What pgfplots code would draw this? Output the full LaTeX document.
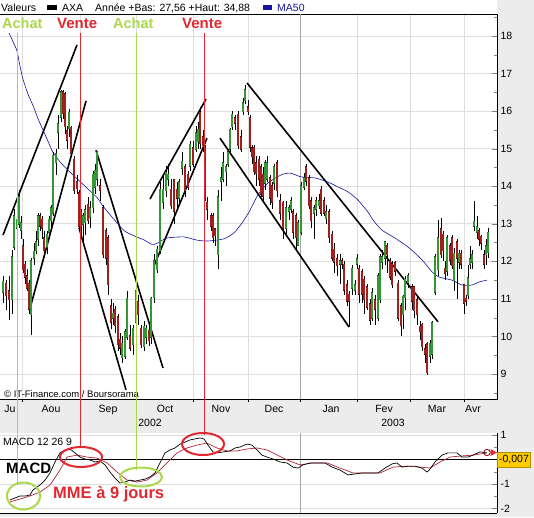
\documentclass[border=0pt]{standalone}
\usepackage{pgfplots}
\pgfplotsset{compat=1.18}
\usepackage{pgfplotstable}
\usepackage{fontspec}
\setmainfont{Liberation Sans}
\definecolor{bg}{RGB}{236,236,236}
\definecolor{gridc}{RGB}{222,222,222}
\definecolor{yearc}{RGB}{165,165,165}
\definecolor{achat}{RGB}{170,216,74}
\definecolor{vente}{RGB}{226,40,48}
\definecolor{cgreen}{RGB}{52,150,52}
\definecolor{cgreenE}{RGB}{25,80,25}
\definecolor{cred}{RGB}{160,32,32}
\definecolor{credE}{RGB}{70,10,10}
\definecolor{ma}{RGB}{20,20,160}
\definecolor{sig}{RGB}{176,40,56}
\definecolor{ybox}{RGB}{255,204,0}

\pgfplotstableread{
x o h l c
3 11.20 11.60 10.90 11.45
6 11.40 11.50 10.70 11.10
9 11.20 11.60 10.45 11.00
12 11.00 12.30 10.60 12.10
14 12.40 13.40 12.30 13.20
17 12.90 13.50 12.60 13.10
19 13.00 13.90 12.90 13.70
21 12.85 13.20 12.60 13.00
23 12.40 12.60 11.70 11.80
25 11.90 12.00 11.40 11.60
27 11.60 11.80 11.20 11.30
29 11.40 11.50 10.60 10.75
31 10.60 12.10 10.05 12.00
34 12.10 12.50 11.90 12.25
36 12.30 12.80 12.20 12.50
38 12.60 13.30 12.40 13.20
40 13.20 13.30 12.80 12.95
42 13.10 13.20 12.60 12.90
44 12.60 12.80 12.10 12.30
47 12.40 12.80 12.20 12.70
49 12.80 13.20 12.60 13.10
51 13.10 13.50 12.90 13.40
53 13.30 14.90 13.20 14.80
56 14.65 15.00 14.30 14.85
58 15.45 15.90 15.00 15.65
61 15.85 16.55 15.70 16.50
63 16.50 16.55 15.80 15.95
65 16.45 16.50 15.40 15.60
67 15.45 15.60 15.00 15.25
69 15.55 16.05 15.30 15.95
71 15.55 15.60 14.80 14.90
74 14.70 14.80 13.80 13.90
77 14.10 14.30 13.80 13.95
79 13.80 13.90 12.80 12.95
81 13.30 13.40 12.60 12.95
83 13.00 13.30 12.50 13.20
85 13.05 13.50 12.70 13.35
88 13.50 13.70 13.00 13.10
90 13.20 13.60 12.90 13.40
93 13.45 14.40 13.30 14.30
95 14.00 14.60 13.80 14.40
97 14.20 14.95 14.00 14.90
100 14.00 14.20 13.60 13.90
103 13.40 13.50 12.10 12.20
106 12.80 12.90 11.90 12.10
108 12.60 12.70 11.10 11.40
111 10.80 11.00 10.20 10.40
113 10.50 10.90 10.30 10.60
115 10.70 10.80 10.10 10.30
118 10.50 10.60 9.60 9.80
120 9.90 10.10 9.50 9.70
122 9.45 10.00 9.30 9.80
125 9.50 10.20 9.40 10.10
127 10.00 11.20 9.90 11.00
130 10.00 10.30 9.60 9.70
133 9.80 10.30 9.50 10.20
136 10.40 11.40 10.20 11.20
138 10.90 11.10 10.30 10.60
141 10.20 10.30 9.70 9.80
144 9.75 10.40 9.60 10.25
146 10.00 10.30 9.80 10.20
149 10.15 10.30 9.75 9.90
151 10.00 11.05 9.80 11.00
154 11.05 12.20 10.90 12.00
157 11.80 12.40 11.70 12.30
160 12.30 14.10 12.20 13.90
163 13.60 14.30 13.40 13.90
166 13.90 14.55 13.70 14.35
168 14.20 14.60 14.00 14.30
171 13.90 14.20 13.40 13.50
174 14.15 14.20 13.00 13.35
177 13.90 14.10 13.40 13.70
179 13.70 14.20 13.50 14.10
182 14.50 14.90 14.30 14.65
185 14.50 14.60 13.70 13.90
188 14.30 14.40 13.90 14.00
190 14.55 15.20 14.40 15.10
193 15.00 15.20 14.50 14.60
196 15.00 15.60 14.90 15.40
198 15.20 15.70 15.00 15.50
200 15.95 16.10 15.00 15.15
203 15.30 15.50 14.90 15.10
205 15.00 15.10 13.60 13.70
207 13.55 13.70 13.10 13.40
211 13.20 13.30 12.80 12.95
213 13.20 13.30 12.50 12.65
215 12.85 12.90 12.40 12.70
218 12.20 13.90 11.80 13.70
221 14.15 14.50 13.60 14.20
223 14.20 14.90 14.10 14.60
226 14.40 14.60 14.00 14.50
228 14.60 15.00 14.50 14.90
230 15.00 15.55 14.90 15.50
232 15.60 16.00 15.50 15.90
235 15.80 15.90 15.50 15.70
238 15.90 16.00 15.00 15.10
241 15.30 15.50 14.90 15.00
243 16.00 16.35 15.90 16.20
245 16.30 16.70 16.20 16.55
248 16.10 16.30 15.90 16.00
250 15.80 15.90 14.90 15.05
252 15.00 15.10 14.60 14.80
254 15.00 15.10 14.30 14.40
256 14.60 14.80 14.00 14.35
259 14.70 14.80 14.00 14.20
261 14.50 14.60 13.70 13.80
263 14.30 14.50 13.60 13.75
265 14.10 14.70 13.90 14.60
267 14.20 14.80 14.10 14.60
270 14.20 14.30 13.50 13.70
272 14.00 14.10 13.40 13.60
274 14.10 14.60 13.90 14.50
277 14.60 14.70 13.70 13.90
280 13.60 13.80 13.10 13.30
283 13.55 13.60 12.60 12.90
286 12.90 13.60 12.70 13.40
289 13.35 13.50 13.10 13.40
291 13.40 13.70 13.30 13.60
293 13.30 13.40 12.60 12.80
296 13.20 13.30 12.30 12.65
298 12.45 13.10 12.40 13.00
301 12.80 14.10 12.70 14.00
304 14.00 14.35 13.90 14.20
306 14.50 14.60 14.00 14.15
309 14.20 14.30 13.40 13.50
311 13.60 13.70 12.90 13.10
314 13.30 13.50 12.60 13.40
316 13.40 13.70 13.20 13.60
319 13.50 13.80 13.40 13.60
321 13.90 14.00 13.20 13.30
324 13.60 13.70 13.20 13.30
326 13.15 13.50 13.00 13.30
329 13.30 13.40 12.50 12.65
332 12.70 12.80 12.00 12.10
334 12.30 12.50 11.70 12.00
337 12.05 12.20 11.60 11.90
340 11.95 12.20 11.40 12.00
342 12.00 12.10 11.80 11.95
344 11.90 12.00 11.10 11.25
347 11.35 11.50 10.80 10.95
349 11.10 11.20 10.25 10.95
352 11.30 11.90 11.10 11.80
355 11.25 11.50 11.10 11.35
357 11.95 12.20 11.80 12.05
359 11.80 11.90 10.90 11.15
362 11.70 11.80 10.90 11.15
364 11.50 11.60 10.60 11.00
367 11.30 11.40 10.70 10.80
370 10.85 11.00 10.30 10.45
372 10.50 11.30 10.40 11.15
375 10.95 11.10 10.30 10.75
378 10.50 11.70 10.40 11.60
380 11.00 12.20 10.90 12.10
382 12.00 12.30 11.80 12.10
385 12.10 12.55 11.90 12.50
387 12.40 12.50 11.70 12.20
390 12.00 12.10 11.50 11.60
392 11.90 12.00 11.30 11.40
395 11.95 12.00 11.60 11.75
398 11.40 11.50 10.40 10.50
401 10.80 10.90 10.00 10.30
403 10.60 11.10 10.20 11.05
405 11.05 11.60 10.70 11.50
408 11.45 11.70 11.30 11.60
412 11.30 11.40 10.70 10.95
414 11.30 11.35 10.50 10.70
417 10.95 11.10 10.30 10.60
420 10.25 10.40 9.90 10.15
422 10.30 10.35 9.60 9.75
425 9.65 9.80 9.30 9.55
427 9.80 9.85 8.98 9.05
430 9.50 9.90 9.30 9.80
432 9.55 10.40 9.40 10.35
435 11.20 12.20 11.10 12.10
438 11.80 13.10 11.60 12.60
441 12.85 13.15 12.10 12.20
443 12.70 12.80 12.00 12.30
445 11.80 12.00 11.50 11.70
447 11.75 12.70 11.60 12.60
450 12.40 12.50 11.90 12.05
452 12.60 12.70 11.80 11.90
454 11.50 12.35 11.20 12.20
457 12.50 12.60 11.00 12.10
459 12.00 12.30 11.80 12.20
461 12.20 12.30 11.80 11.95
464 11.35 11.40 10.60 10.90
466 11.00 11.10 10.80 10.95
468 11.10 11.90 11.00 11.55
470 11.95 12.40 11.80 12.05
472 12.00 12.30 11.80 12.15
474 12.95 13.60 12.80 13.05
477 12.80 13.20 12.60 12.90
479 12.80 12.90 12.40 12.60
481 12.65 12.70 12.30 12.50
484 12.15 12.30 11.80 11.95
486 12.20 12.60 11.90 12.40
488 12.25 12.90 12.10 12.75
}\candles

\begin{document}
\begin{tikzpicture}
\useasboundingbox (0pt,0pt) rectangle (534pt,517pt);
\fill[bg] (0pt,0pt) rectangle (534pt,517pt);
\fill[white] (0pt,503pt) rectangle (497pt,517pt);

% ---------- main price panel ----------
\begin{axis}[
  at={(-1pt,118pt)}, anchor=south west,
  width=498pt, height=385pt, scale only axis,
  xmin=-1, xmax=497, ymin=8.334, ymax=18.586,
  axis background/.style={fill=white},
  axis line style={black, line width=0.8pt},
  ytick pos=right, yticklabel pos=right,
  xtick pos=left,
  ytick={9,10,...,18}, minor ytick={8.5,9.5,...,18.5},
  tick align=inside,
  major tick length=5pt, minor tick length=3pt,
  ymajorgrids, major grid style={gridc, line width=0.6pt},
  xtick={10,51,108,165,221,274,331,384,437,473},
  xticklabels={Ju,Aou,Sep,Oct,Nov,Dec,Jan,Fev,Mar,Avr},
  major x tick style={draw=none},
  minor xtick={22,80,136,193,248,300,357,410,464},
  minor x tick style={yshift=-3pt, black},
  xminorgrids, minor x grid style={gridc, line width=0.6pt},
  tick label style={font=\fontsize{10.5}{12}\selectfont},
  xticklabel style={anchor=base, yshift=-13.7pt},
  /pgf/number format/assume math mode=true,
  clip=true,
]
\draw[yearc, line width=0.7pt] (axis cs:300,8.334) -- (axis cs:300,18.586);
% trend lines
\addplot[black, line width=1.6pt] coordinates {(3,12.70) (77,17.76)};
\addplot[black, line width=1.6pt] coordinates {(31,10.84) (86,16.27)};
\addplot[black, line width=1.6pt] coordinates {(96,14.96) (163,9.16)};
\addplot[black, line width=1.6pt] coordinates {(79,12.89) (126,8.58)};
\addplot[black, line width=1.6pt] coordinates {(150,13.66) (206,16.32)};
\addplot[black, line width=1.6pt] coordinates {(154,11.88) (207,15.28)};
\addplot[black, line width=1.6pt] coordinates {(247,16.75) (438,10.39)};
\addplot[black, line width=1.6pt] coordinates {(220,15.28) (349,10.25)};
% MA50
\addplot[ma, line width=0.6pt, smooth, tension=0.4] coordinates {
(9,18.08) (13,17.85) (17,17.60) (20,17.20) (23,16.85) (28,16.45) (33,16.15) (38,15.80)
(43,15.50) (48,15.20) (53,14.90) (60,14.65) (67,14.45) (77,14.20) (87,13.95) (97,13.70)
(103,13.47) (113,13.15) (124,12.82) (134,12.68) (144,12.57) (152,12.45) (157,12.48) (167,12.62)
(184,12.65) (196,12.57) (207,12.54) (224,12.60) (234,12.76) (242,13.02) (249,13.31) (258,13.77)
(268,14.09) (281,14.30) (290,14.35) (301,14.25) (315,14.22) (328,14.11) (338,13.98) (348,13.85)
(358,13.63) (368,13.31) (373,13.10) (382,12.83) (395,12.62) (409,12.36) (422,12.04) (432,11.72)
(439,11.58) (452,11.50) (462,11.37) (472,11.37) (479,11.45) (487,11.50)};
% wicks
\addplot[draw=none, mark=none, forget plot,
  error bars/.cd, y dir=both, y explicit, error mark=none,
  error bar style={draw=black, line width=0.65pt}]
  table[x=x, y expr={(\thisrow{h}+\thisrow{l})/2}, y error expr={(\thisrow{h}-\thisrow{l})/2}] {\candles};
% green bodies
\addplot[draw=none, mark=none, forget plot, restrict y to domain=0:100,
  error bars/.cd, y dir=both, y explicit, error mark=none,
  error bar style={draw=cgreenE, line width=2.6pt, line cap=rect}]
  table[x=x, y expr={\thisrow{c}>\thisrow{o} ? 0.5*(\thisrow{c}+\thisrow{o}) : -100}, y error expr={abs(\thisrow{c}-\thisrow{o})/2}] {\candles};
\addplot[draw=none, mark=none, forget plot, restrict y to domain=0:100,
  error bars/.cd, y dir=both, y explicit, error mark=none,
  error bar style={draw=cgreen, line width=1.4pt, line cap=rect}]
  table[x=x, y expr={\thisrow{c}>\thisrow{o} ? 0.5*(\thisrow{c}+\thisrow{o}) : -100}, y error expr={abs(\thisrow{c}-\thisrow{o})/2}] {\candles};
% red bodies
\addplot[draw=none, mark=none, forget plot, restrict y to domain=0:100,
  error bars/.cd, y dir=both, y explicit, error mark=none,
  error bar style={draw=credE, line width=2.6pt, line cap=rect}]
  table[x=x, y expr={\thisrow{c}>\thisrow{o} ? -100 : 0.5*(\thisrow{c}+\thisrow{o})}, y error expr={abs(\thisrow{c}-\thisrow{o})/2}] {\candles};
\addplot[draw=none, mark=none, forget plot, restrict y to domain=0:100,
  error bars/.cd, y dir=both, y explicit, error mark=none,
  error bar style={draw=cred, line width=1.4pt, line cap=rect}]
  table[x=x, y expr={\thisrow{c}>\thisrow{o} ? -100 : 0.5*(\thisrow{c}+\thisrow{o})}, y error expr={abs(\thisrow{c}-\thisrow{o})/2}] {\candles};
\end{axis}

% ---------- MACD panel ----------
\begin{axis}[
  at={(-1pt,4pt)}, anchor=south west,
  width=498pt, height=80pt, scale only axis,
  xmin=-1, xmax=497, ymin=-2.184, ymax=1.082,
  axis background/.style={fill=white},
  axis x line*=bottom, axis y line*=right,
  axis line style={black, line width=0.8pt},
  xtick=\empty,
  minor xtick={22,80,136,193,248,357,410,464},
  minor x tick style={draw=none},
  xminorgrids, minor x grid style={gridc, line width=0.6pt},
  ytick={-2,-1,1}, yticklabels={-2,-1,1},
  minor ytick={-1.5,-0.5,0.5},
  tick align=inside,
  major tick length=5pt, minor tick length=3pt,
  ymajorgrids, major grid style={gridc, line width=0.6pt},
  tick label style={font=\fontsize{10.5}{12}\selectfont},
  clip=true,
]
\draw[yearc, line width=0.7pt] (axis cs:300,-2.184) -- (axis cs:300,1.082);
\draw[black, line width=0.8pt] (axis cs:-1,0) -- (axis cs:497,0);
\addplot[sig, line width=0.7pt] coordinates {
(10,-1.73) (27,-1.53) (40,-1.33) (50,-1.04) (60,-0.43) (67,0.10) (77,0.18) (87,0.10)
(97,0.06) (107,-0.14) (117,-0.51) (127,-0.84) (137,-0.92) (147,-0.84) (157,-0.55) (167,-0.14)
(177,0.27) (187,0.47) (197,0.59) (207,0.67) (217,0.47) (227,0.35) (237,0.35) (247,0.43)
(257,0.47) (267,0.39) (273,0.27) (287,-0.02) (300,-0.22) (313,-0.14) (327,-0.14) (340,-0.35)
(353,-0.55) (367,-0.55) (380,-0.55) (393,-0.31) (407,-0.27) (420,-0.31) (430,-0.35) (440,-0.10)
(450,0.10) (460,0.14) (473,0.18) (487,0.27)};
\addplot[black, line width=0.7pt] coordinates {
(10,-1.65) (15,-1.57) (20,-1.49) (25,-1.49) (30,-1.45) (33,-1.24) (40,-1.04) (45,-0.84)
(50,-0.55) (55,-0.10) (60,0.27) (65,0.39) (70,0.43) (75,0.27) (80,0.10) (85,0.02)
(90,-0.02) (95,-0.10) (100,-0.06) (105,-0.22) (110,-0.51) (115,-0.76) (120,-0.96) (125,-0.92)
(130,-0.84) (135,-0.88) (140,-0.84) (145,-0.80) (150,-0.71) (155,-0.55) (160,-0.14) (165,0.27)
(170,0.39) (175,0.47) (180,0.63) (185,0.71) (190,0.80) (195,0.84) (200,0.88) (204,0.84)
(208,0.59) (213,0.31) (218,0.27) (223,0.31) (230,0.35) (235,0.47) (240,0.51) (247,0.63)
(252,0.59) (257,0.39) (262,0.18) (267,0.10) (273,0.02) (280,-0.10) (287,-0.14) (293,-0.31)
(298,-0.35) (303,-0.22) (310,-0.14) (317,-0.14) (325,-0.14) (332,-0.31) (340,-0.43) (348,-0.63)
(355,-0.59) (362,-0.55) (370,-0.55) (378,-0.55) (385,-0.35) (392,-0.18) (397,-0.14) (402,-0.31)
(408,-0.27) (415,-0.27) (422,-0.35) (427,-0.51) (430,-0.39) (435,-0.10) (442,0.18) (448,0.27)
(457,0.27) (462,0.10) (468,0.10) (473,0.18) (480,0.31) (487,0.27)};
\end{axis}

% ---------- annotations ----------
\begin{scope}[x=1pt,y=1pt]
% legend strip
\node[anchor=base west, inner sep=0, font=\fontsize{10.5}{12}\selectfont] at (1,505.5) {Valeurs};
\fill[black] (47,507) rectangle (57,511.5);
\node[anchor=base west, inner sep=0, font=\fontsize{10.5}{12}\selectfont] at (62,505.5) {AXA};
\node[anchor=base west, inner sep=0, font=\fontsize{10.5}{12}\selectfont] at (95,505.5) {Année +Bas: 27,56 +Haut: 34,88};
\fill[ma] (263,507) rectangle (272,511.5);
\node[anchor=base west, inner sep=0, text=ma, font=\fontsize{10.5}{12}\selectfont] at (277,505.5) {MA50};
% copyright
\node[anchor=base west, inner sep=0, font=\fontsize{9.5}{11}\selectfont] at (4,120) {© IT-Finance.com / Boursorama};
% years
\node[anchor=base, inner sep=0, font=\fontsize{10.5}{12}\selectfont] at (150,91) {2002};
\node[anchor=base, inner sep=0, font=\fontsize{10.5}{12}\selectfont] at (393,91) {2003};
% signal lines
\draw[achat, line width=1pt] (17.3,484) -- (17.3,32);
\draw[vente, line width=1pt] (80,484) -- (80,69);
\draw[achat, line width=1pt] (136.3,484) -- (136.3,47);
\draw[vente, line width=1pt] (204,484) -- (204,82);
% signal labels
\node[anchor=base west, inner sep=0, text=achat, font=\bfseries\fontsize{14.5}{16}\selectfont] at (2,488) {Achat};
\node[anchor=base west, inner sep=0, text=vente, font=\bfseries\fontsize{15}{16}\selectfont] at (57,488) {Vente};
\node[anchor=base west, inner sep=0, text=achat, font=\bfseries\fontsize{14.5}{16}\selectfont] at (113,488) {Achat};
\node[anchor=base west, inner sep=0, text=vente, font=\bfseries\fontsize{15}{16}\selectfont] at (182,488) {Vente};
% MACD texts
\node[anchor=base west, inner sep=0, font=\fontsize{10.5}{12}\selectfont] at (3,71.5) {MACD 12 26 9};
\node[anchor=base west, inner sep=0, font=\bfseries\fontsize{15}{17}\selectfont] at (6,44) {MACD};
\node[anchor=base west, inner sep=0, text=vente, font=\bfseries\fontsize{16.5}{18}\selectfont] at (53,19) {MME à 9 jours};
% ellipses
\draw[achat, line width=2pt] (23.5,21) ellipse [x radius=16.5, y radius=13.5];
\draw[vente, line width=2pt] (81,60) ellipse [x radius=21, y radius=10];
\draw[achat, line width=2pt] (141,40) ellipse [x radius=21, y radius=9.5];
\draw[vente, line width=2pt] (203,73) ellipse [x radius=21, y radius=11];
% end marker and value box
\draw[sig!70!black, line width=0.9pt] (487,64.5) circle (3.2);
\fill[vente] (490.5,68) -- (490.5,61) -- (497,64.5) -- cycle;
\node[fill=ybox, draw=ybox!70!black, line width=0.5pt, inner sep=1.5pt, minimum width=32pt, minimum height=15pt, font=\fontsize{10.5}{12}\selectfont] at (514,57.5) {-0,007};
\end{scope}
\end{tikzpicture}
\end{document}
